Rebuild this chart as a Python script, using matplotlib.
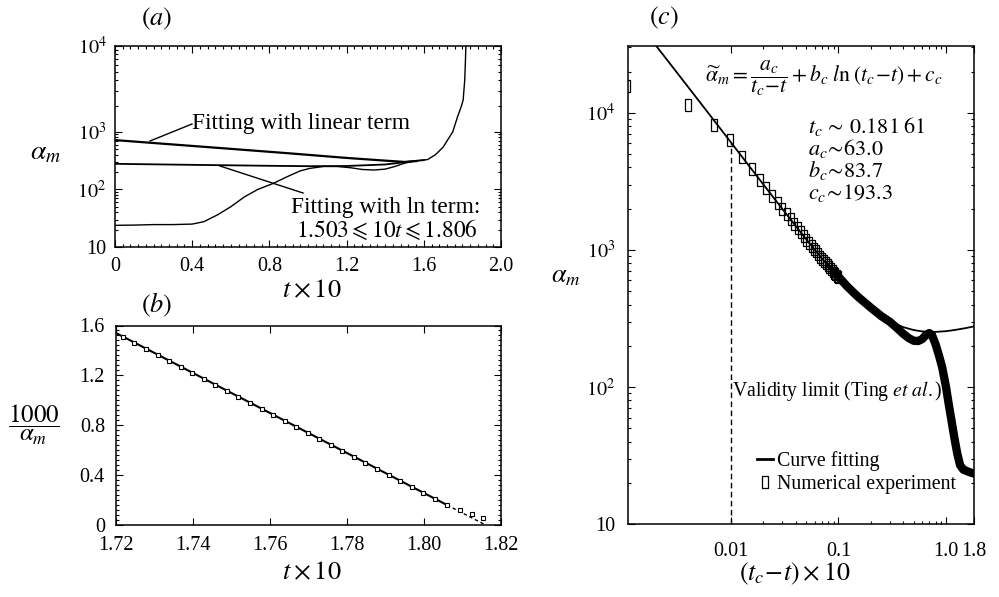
import numpy as np
import matplotlib
matplotlib.use("Agg")
import matplotlib.pyplot as plt
from matplotlib.lines import Line2D
from matplotlib.ticker import FixedLocator, FixedFormatter, NullFormatter

plt.rcParams['font.family'] = ['Liberation Serif', 'DejaVu Serif']
plt.rcParams['mathtext.fontset'] = 'stix'

# ---------------- data: panel (a) ----------------
a_num_t = [0.0, 0.1, 0.2, 0.3, 0.4, 0.46, 0.53, 0.6, 0.67, 0.74, 0.82, 0.89, 0.96,
           1.01, 1.08, 1.15, 1.22, 1.28, 1.34, 1.40, 1.45, 1.50, 1.55, 1.62, 1.66,
           1.70, 1.723, 1.75, 1.775, 1.795, 1.804, 1.812, 1.816, 1.818]
a_num_alpha = [23.8, 24, 24.5, 24.5, 25, 27.5, 36, 50, 74, 100, 127, 165, 210,
               232, 250, 250, 238, 222, 217, 225, 250, 285, 310, 330, 400,
               540, 718, 1000, 1500, 2000, 2350, 4000, 7000, 10000]
a_lin_t = [0.0, 0.3, 0.6, 0.9, 1.2, 1.4, 1.5, 1.56]
a_lin_alpha = [718, 603, 506, 424, 352, 316, 300, 310]
a_ln_t = [0.0, 0.4, 0.8, 1.0, 1.2, 1.4, 1.5, 1.55, 1.6]
a_ln_alpha = [278, 267, 257, 253, 255, 271, 296, 312, 322]
a_xticks = [0.0, 0.4, 0.8, 1.2, 1.6, 2.0]
a_xticklabels = ['0', '0.4', '0.8', '1.2', '1.6', '2.0']
a_yticks = [10, 100, 1000, 10000]
a_yticklabels = ['10', r'$10^2$', r'$10^3$', r'$10^4$']

# ---------------- data: panel (b) ----------------
b_t = [1.7218, 1.7248, 1.7278, 1.7308, 1.7338, 1.7368, 1.7398, 1.7428, 1.7458,
       1.7488, 1.7518, 1.7548, 1.7578, 1.7608, 1.7638, 1.7668, 1.7698, 1.7728,
       1.7758, 1.7788, 1.7818, 1.7848, 1.7878, 1.7908, 1.7938, 1.7968, 1.7998,
       1.8028, 1.8060, 1.8094, 1.8124, 1.8154]
b_inv = [1.511, 1.463, 1.415, 1.367, 1.319, 1.271, 1.222, 1.174, 1.126,
         1.078, 1.030, 0.982, 0.934, 0.886, 0.838, 0.789, 0.741, 0.693,
         0.645, 0.597, 0.549, 0.501, 0.453, 0.405, 0.356, 0.308, 0.260,
         0.212, 0.164, 0.120, 0.086, 0.059]
b_fit_t = [1.72, 1.806]
b_fit_inv = [1.54, 0.16]
b_ext_t = [1.806, 1.816]
b_ext_inv = [0.16, 0.0]
b_xticks = [1.72, 1.74, 1.76, 1.78, 1.80, 1.82]
b_xticklabels = ['1.72', '1.74', '1.76', '1.78', '1.80', '1.82']
b_yticks = [0.0, 0.4, 0.8, 1.2, 1.6]
b_yticklabels = ['0', '0.4', '0.8', '1.2', '1.6']

# ---------------- data: panel (c) ----------------
c_fit_x = [0.002, 0.003, 0.005, 0.007, 0.01, 0.015, 0.02, 0.03, 0.05, 0.07, 0.1,
           0.15, 0.2, 0.3, 0.4, 0.5, 0.6, 0.7, 0.8, 1.0, 1.2, 1.5, 1.8]
c_fit_alpha = [31170, 20710, 12350, 8780, 6110, 4040, 3016, 2000, 1202, 870, 630,
               454, 373, 302, 274, 261, 255, 253, 253, 256, 261, 269, 277]
c_exp_x = [0.00108, 0.00397, 0.00692, 0.0098, 0.0127, 0.0156, 0.0185, 0.0214,
           0.0243, 0.0272, 0.0301, 0.0330, 0.0359, 0.0388, 0.0417, 0.0446, 0.0475,
           0.0504, 0.0533, 0.0562, 0.0591, 0.0620, 0.0649, 0.0678, 0.0707, 0.0736,
           0.0765, 0.0794, 0.0823, 0.0852, 0.0881, 0.0910, 0.0939, 0.0968, 0.0997]
c_exp_alpha = [15700, 11350, 8200, 6300, 4790, 3880, 3260, 2820, 2475, 2210, 1990,
               1820, 1670, 1545, 1440, 1346, 1264, 1193, 1130, 1073, 1023, 977,
               935, 897, 863, 831, 802, 774, 749, 726, 705, 685, 666, 649, 632]
c_band_x = [0.09, 0.1, 0.12, 0.15, 0.2, 0.25, 0.3, 0.35, 0.4, 0.45, 0.5, 0.55, 0.6,
            0.65, 0.7, 0.74, 0.8, 0.86, 0.92, 1.0, 1.06, 1.12, 1.2, 1.27, 1.35,
            1.45, 1.55, 1.65, 1.8]
c_band_alpha = [695, 640, 545, 460, 380, 330, 300, 270, 245, 228, 218, 217, 224,
                240, 248, 240, 205, 170, 140, 100, 75, 58, 42, 33, 27,
                25, 24.5, 24, 23.5]
c_valid_x = 0.01
c_valid_top = 6000
c_xticks = [0.01, 0.1, 1.0, 1.8]
c_xticklabels = ['0.01', '0.1', '1.0', '1.8']
c_yticks = [10, 100, 1000, 10000]
c_yticklabels = ['10', r'$10^2$', r'$10^3$', r'$10^4$']

# ---------------- figure ----------------
W, H = 999, 597
fig = plt.figure(figsize=(W / 100, H / 100), dpi=100)


def fx(px):
    return px / W


def fy(py):
    return 1 - py / H


def add_ax(l, t, r, b):
    return fig.add_axes([fx(l), fy(b), (r - l) / W, (b - t) / H])


def style(ax, xpad, ypad):
    ax.tick_params(which='both', direction='in', top=True, right=True,
                   labelsize=14.5, width=0.8)
    ax.tick_params(which='major', length=5)
    ax.tick_params(which='minor', length=2.5)
    ax.tick_params(axis='x', pad=xpad)
    ax.tick_params(axis='y', pad=ypad)
    for s in ax.spines.values():
        s.set_linewidth(1.1)


rect = [(-0.22, -0.5), (0.22, -0.5), (0.22, 0.5), (-0.22, 0.5), (-0.22, -0.5)]

# ----- panel (a) -----
axA = add_ax(115, 46, 501, 247)


def fwd(y):
    ly = np.log10(np.maximum(np.asarray(y, dtype=float), 1e-12))
    return np.where(ly <= 3, ly, 3 + (ly - 3) * 1.49)


def inv(u):
    u = np.asarray(u, dtype=float)
    return 10 ** np.where(u <= 3, u, 3 + (u - 3) / 1.49)


axA.set_yscale('function', functions=(fwd, inv))
axA.plot(a_num_t, a_num_alpha, color='k', lw=1.0)
axA.plot(a_ln_t, a_ln_alpha, color='k', lw=1.3)
axA.plot(a_lin_t, a_lin_alpha, color='k', lw=1.6)
axA.set_xlim(0, 2.0)
axA.set_ylim(10, 10000)
axA.xaxis.set_major_locator(FixedLocator(a_xticks))
axA.xaxis.set_major_formatter(FixedFormatter(a_xticklabels))
axA.xaxis.set_minor_locator(FixedLocator(np.arange(0, 2.001, 0.04)))
axA.yaxis.set_major_locator(FixedLocator(a_yticks))
axA.yaxis.set_major_formatter(FixedFormatter(a_yticklabels))
minA = [m * 10 ** d for d in (1, 2, 3) for m in range(2, 10)]
axA.yaxis.set_minor_locator(FixedLocator(minA))
axA.yaxis.set_minor_formatter(NullFormatter())
style(axA, 7, 6)

# ----- panel (b) -----
axB = add_ax(116, 325.5, 501, 525)
axB.plot(b_fit_t, b_fit_inv, color='k', lw=1.5)
axB.plot(b_ext_t, b_ext_inv, color='k', lw=1.0, dashes=(2.5, 2))
axB.plot(b_t, b_inv, ls='none', marker='s', ms=3.4, mfc='white', mec='k', mew=0.8)
axB.set_xlim(1.72, 1.82)
axB.set_ylim(0, 1.6)
axB.xaxis.set_major_locator(FixedLocator(b_xticks))
axB.xaxis.set_major_formatter(FixedFormatter(b_xticklabels))
axB.yaxis.set_major_locator(FixedLocator(b_yticks))
axB.yaxis.set_major_formatter(FixedFormatter(b_yticklabels))
axB.yaxis.set_minor_locator(FixedLocator(np.arange(0, 1.601, 0.04)))
style(axB, 8, 8)

# ----- panel (c) -----
axC = add_ax(627.7, 45.7, 973.5, 524.3)
axC.set_xscale('log')
axC.set_yscale('log')
axC.plot([c_valid_x, c_valid_x], [10, c_valid_top], color='k', lw=1.0, dashes=(4, 2.5))
axC.plot(c_band_x, c_band_alpha, color='k', lw=6, solid_joinstyle='round',
         solid_capstyle='round')
axC.plot(c_fit_x, c_fit_alpha, color='k', lw=1.3)
axC.plot(c_exp_x, c_exp_alpha, ls='none', marker=rect, ms=8.5, mfc='none', mec='k', mew=0.9)
axC.set_xlim(0.0011, 1.8)
axC.set_ylim(10, 10 ** 4.49)
axC.xaxis.set_major_locator(FixedLocator(c_xticks))
axC.xaxis.set_major_formatter(FixedFormatter(c_xticklabels))
axC.xaxis.set_minor_locator(FixedLocator([m * 0.01 for m in range(2, 10)] +
                                         [m * 0.1 for m in range(2, 10)]))
axC.xaxis.set_minor_formatter(NullFormatter())
axC.yaxis.set_major_locator(FixedLocator(c_yticks))
axC.yaxis.set_major_formatter(FixedFormatter(c_yticklabels))
axC.yaxis.set_minor_locator(FixedLocator([m * 10 ** d for d in (1, 2, 3, 4) for m in range(2, 10)]))
axC.yaxis.set_minor_formatter(NullFormatter())
style(axC, 13, 9)

h1 = Line2D([], [], color='k', lw=2)
h2 = Line2D([], [], ls='none', marker=rect, ms=8.5, mfc='none', mec='k', mew=0.9)
leg = fig.legend([h1, h2], ['Curve fitting', 'Numerical experiment'],
                 loc='upper left', bbox_to_anchor=(fx(757), fy(451)),
                 frameon=False, fontsize=14.3, handlelength=0.8, handletextpad=0.2,
                 labelspacing=0.22, borderpad=0, borderaxespad=0)

# ---------------- texts ----------------
fig.text(fx(157), fy(19), r'$(a)$', fontsize=19, ha='center', va='center')
fig.text(fx(157), fy(305), r'$(b)$', fontsize=19, ha='center', va='center')
fig.text(fx(664), fy(18), r'$(c)$', fontsize=19, ha='center', va='center')

fig.text(fx(46), fy(153), r'$\alpha_m$', fontsize=20, ha='center', va='center')
fig.text(fx(312), fy(291), r'$t\times10$', fontsize=19, ha='center', va='center')
fig.text(fx(34), fy(425), r'$\dfrac{1000}{\alpha_m}$', fontsize=18, ha='center', va='center')
fig.text(fx(312), fy(573), r'$t\times10$', fontsize=19, ha='center', va='center')
fig.text(fx(566), fy(277), r'$\alpha_m$', fontsize=19, ha='center', va='center')
fig.text(fx(795), fy(574), r'$(t_c\!-\!t)\times10$', fontsize=18.7, ha='center', va='center')

fig.text(fx(192), fy(124), 'Fitting with linear term', fontsize=16.8, ha='left', va='center')
fig.text(fx(386), fy(208), 'Fitting with ln term:', fontsize=16.8, ha='center', va='center')
fig.text(fx(387), fy(230), r'$1.503\leqslant10t\leqslant1.806$', fontsize=16.8,
         ha='center', va='center')
fig.add_artist(Line2D([fx(150), fx(192)], [fy(141), fy(124)], color='k', lw=1.0))
fig.add_artist(Line2D([fx(220), fx(303)], [fy(166), fy(193)], color='k', lw=1.0))

fig.text(fx(705), fy(78), r'$\widetilde{\alpha}_m=\dfrac{a_c}{t_c\!-\!t}+b_c\;l\mathrm{n}\;(t_c\!-\!t)+c_c$',
         fontsize=15.6, ha='left', va='center')
fig.text(fx(808), fy(127), r'$t_c\,\sim\,0.181\;61$', fontsize=16, ha='left', va='center')
fig.text(fx(808), fy(149), r'$a_c\!\sim\!63.0$', fontsize=16, ha='left', va='center')
fig.text(fx(808), fy(171), r'$b_c\!\sim\!83.7$', fontsize=16, ha='left', va='center')
fig.text(fx(808), fy(193), r'$c_c\!\sim\!193.3$', fontsize=16, ha='left', va='center')
fig.text(fx(732), fy(391), r'Validity limit (Ting $\mathit{et\ al.}$)', fontsize=14.2,
         ha='left', va='center')

fig.savefig('out.png', dpi=100)
